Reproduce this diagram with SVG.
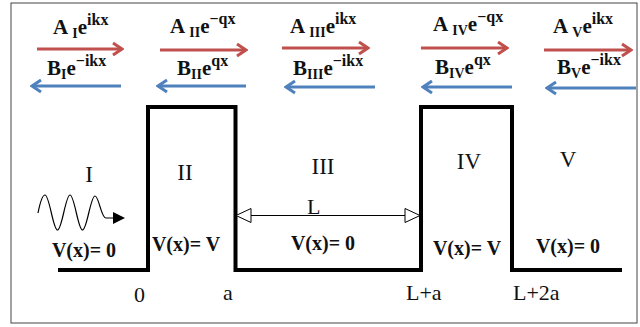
<svg xmlns="http://www.w3.org/2000/svg" width="640" height="327" viewBox="0 0 640 327">
<style>
.frame{fill:#fff;stroke:#444;stroke-width:1}
.pot{fill:none;stroke:#000;stroke-width:4;stroke-linejoin:miter}
.red{stroke:#c0504d;stroke-width:3;fill:none}
.blue{stroke:#4f81bd;stroke-width:3;fill:none}
.coef{font-family:"Liberation Serif","Times New Roman",serif;font-weight:bold;font-size:21px;fill:#111}
.sb{font-size:14px}
.sp{font-size:16px}
.reg{font-family:"Liberation Serif","Times New Roman",serif;font-size:23px;fill:#111;text-anchor:middle}
.pos{font-family:"Liberation Serif","Times New Roman",serif;font-size:22px;fill:#111}
.vx{font-family:"Liberation Serif","Times New Roman",serif;font-weight:bold;font-size:20px;fill:#111;text-anchor:middle}
.dim{stroke:#000;stroke-width:1;fill:none}
.wave{stroke:#000;stroke-width:1.2;fill:none}
</style>
<defs>
<marker id="mr" markerUnits="userSpaceOnUse" viewBox="-12 -8 14 16" markerWidth="14" markerHeight="16" refX="0" refY="0" orient="auto">
<path d="M-9,-6 L0,0 L-9,6" fill="none" stroke="#c0504d" stroke-width="3"/>
</marker>
<marker id="mb" markerUnits="userSpaceOnUse" viewBox="-12 -8 14 16" markerWidth="14" markerHeight="16" refX="0" refY="0" orient="auto">
<path d="M-9,-6 L0,0 L-9,6" fill="none" stroke="#4f81bd" stroke-width="3"/>
</marker>
<marker id="tri" markerUnits="userSpaceOnUse" viewBox="-16 -8 17 16" markerWidth="17" markerHeight="16" refX="0" refY="0" orient="auto">
<path d="M-15,-7 L0,0 L-15,7 Z" fill="#fff" stroke="#000" stroke-width="1"/>
</marker>
</defs>
<rect class="frame" x="11" y="3" width="626" height="320"/>

<g id="connectors">
<path id="potential" class="pot" d="M58,270 H148 V107 H235.5 V270 H421 V107 H512 V270 H622"/>
<line class="red" x1="37" y1="49" x2="122" y2="49" marker-end="url(#mr)"/>
<line class="blue" x1="121" y1="86" x2="32" y2="86" marker-end="url(#mb)"/>
<line class="red" x1="160" y1="50" x2="246" y2="50" marker-end="url(#mr)"/>
<line class="blue" x1="246" y1="86" x2="158" y2="86" marker-end="url(#mb)"/>
<line class="red" x1="282" y1="48" x2="368" y2="48" marker-end="url(#mr)"/>
<line class="blue" x1="375" y1="87" x2="286" y2="87" marker-end="url(#mb)"/>
<line class="red" x1="421" y1="48" x2="507" y2="48" marker-end="url(#mr)"/>
<line class="blue" x1="512" y1="87" x2="423" y2="87" marker-end="url(#mb)"/>
<line class="red" x1="544" y1="50" x2="631" y2="50" marker-end="url(#mr)"/>
<line class="blue" x1="636" y1="88" x2="547" y2="88" marker-end="url(#mb)"/>
<line class="dim" x1="290" y1="215.5" x2="236" y2="215.5" marker-end="url(#tri)"/>
<line class="dim" x1="290" y1="215.5" x2="420" y2="215.5" marker-end="url(#tri)"/>
</g>

<g id="region-I">
<text class="coef" x="53" y="34">A <tspan class="sb" dy="4">I</tspan><tspan dy="-4">e</tspan><tspan class="sp" dy="-9">ikx</tspan></text>
<text class="coef" x="47" y="75">B<tspan class="sb" dy="4">I</tspan><tspan dy="-4">e</tspan><tspan class="sp" dy="-9">−ikx</tspan></text>
<text class="reg" x="89" y="182">I</text>
<path class="wave" d="M38,213 C40,203 42,195 45,195 C49.5,195 53,230 57.5,230 C62,230 65.5,195 70,195 C74.5,195 78,230 82.5,230 C87,230 90.5,196 95,196 C99,196 101,218 106,218 H115"/>
<polygon points="113,212 125,218 113,224" fill="#000"/>
<text class="vx" x="84" y="257">V(x)= 0</text>
</g>

<g id="region-II">
<text class="coef" x="170" y="33">A <tspan class="sb" dy="4">II</tspan><tspan dy="-4">e</tspan><tspan class="sp" dy="-9">−qx</tspan></text>
<text class="coef" x="177" y="75">B<tspan class="sb" dy="4">II</tspan><tspan dy="-4">e</tspan><tspan class="sp" dy="-9">qx</tspan></text>
<text class="reg" x="185" y="180">II</text>
<text class="vx" x="186" y="251">V(x)= V</text>
</g>

<g id="region-III">
<text class="coef" x="290" y="33">A <tspan class="sb" dy="4">III</tspan><tspan dy="-4">e</tspan><tspan class="sp" dy="-9">ikx</tspan></text>
<text class="coef" x="293" y="75">B<tspan class="sb" dy="4">III</tspan><tspan dy="-4">e</tspan><tspan class="sp" dy="-9">−ikx</tspan></text>
<text class="reg" x="323" y="174">III</text>
<text class="pos" x="307" y="214">L</text>
<text class="vx" x="323" y="250">V(x)= 0</text>
</g>

<g id="region-IV">
<text class="coef" x="433" y="31">A <tspan class="sb" dy="4">IV</tspan><tspan dy="-4">e</tspan><tspan class="sp" dy="-9">−qx</tspan></text>
<text class="coef" x="435" y="74">B<tspan class="sb" dy="4">IV</tspan><tspan dy="-4">e</tspan><tspan class="sp" dy="-9">qx</tspan></text>
<text class="reg" x="469" y="169">IV</text>
<text class="vx" x="467" y="255">V(x)= V</text>
</g>

<g id="region-V">
<text class="coef" x="553" y="33">A <tspan class="sb" dy="4">V</tspan><tspan dy="-4">e</tspan><tspan class="sp" dy="-9">ikx</tspan></text>
<text class="coef" x="557" y="74">B<tspan class="sb" dy="4">V</tspan><tspan dy="-4">e</tspan><tspan class="sp" dy="-9">−ikx</tspan></text>
<text class="reg" x="568" y="167">V</text>
<text class="vx" x="568" y="253">V(x)= 0</text>
</g>

<g id="axis-labels">
<text class="pos" x="134" y="302">0</text>
<text class="pos" x="223" y="300">a</text>
<text class="pos" x="406" y="300">L+a</text>
<text class="pos" x="513" y="300">L+2a</text>
</g>
</svg>
